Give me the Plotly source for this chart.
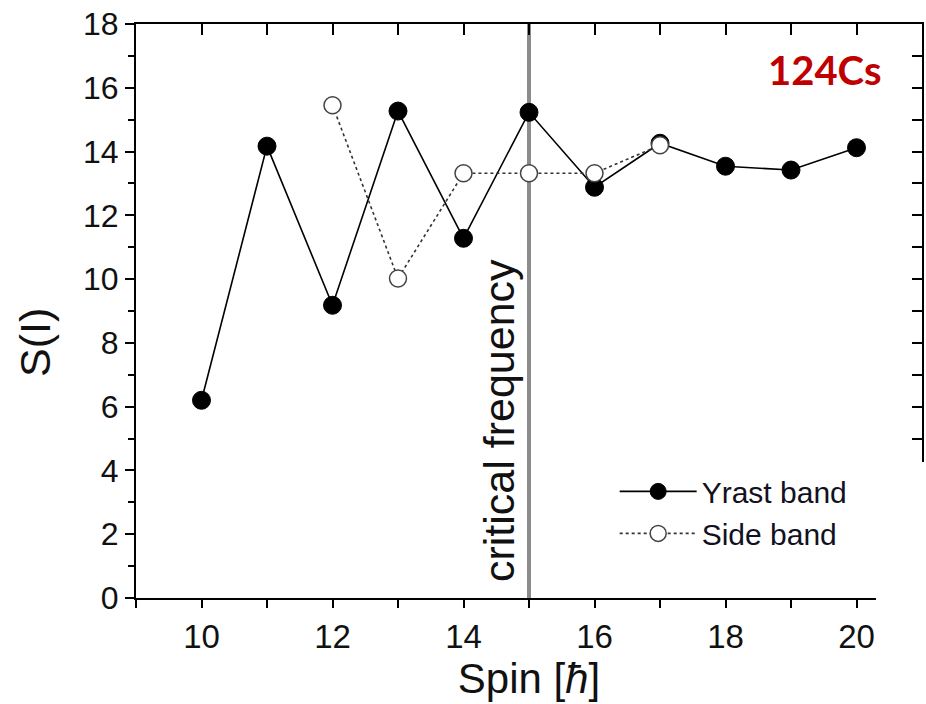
import plotly.graph_objects as go

# ---- data ----
yrast_spin = [10, 11, 12, 13, 14, 15, 16, 17, 18, 19, 20]
yrast_S = [6.2, 14.17, 9.18, 15.27, 11.28, 15.23, 12.88, 14.26, 13.54, 13.42, 14.12]
side_spin = [12, 13, 14, 15, 16, 17]
side_S = [15.45, 10.02, 13.32, 13.32, 13.32, 14.2]
critical_spin = 15
y_range = [0, 18]
x_range = [9, 21]

FONT = "Liberation Sans, Arial, sans-serif"

fig = go.Figure()

# critical frequency line
fig.add_trace(go.Scatter(
    x=[critical_spin, critical_spin], y=y_range, mode="lines",
    line=dict(color="#8c8c8c", width=4), showlegend=False, hoverinfo="skip"))

fig.add_trace(go.Scatter(
    x=yrast_spin, y=yrast_S, mode="lines+markers", name="Yrast band",
    line=dict(color="black", width=1.6),
    marker=dict(symbol="circle", size=18, color="black",
                line=dict(color="black", width=1))))

fig.add_trace(go.Scatter(
    x=side_spin, y=side_S, mode="lines+markers", name="Side band",
    line=dict(color="#333333", width=1.6, dash="dot"),
    marker=dict(symbol="circle", size=17, color="white",
                line=dict(color="#444444", width=1.5))))

# invisible trace for mirrored (inside-tick) axes
fig.add_trace(go.Scatter(x=[], y=[], xaxis="x2", yaxis="y2",
                         showlegend=False, hoverinfo="skip"))

fig.update_layout(
    width=926, height=704,
    margin=dict(l=136, r=4, t=24, b=106),
    paper_bgcolor="white", plot_bgcolor="white",
    font=dict(family=FONT, color="#111111"),
    showlegend=True,
    legend=dict(x=0.609, y=0.231, xanchor="left", yanchor="top",
                bgcolor="rgba(0,0,0,0)", borderwidth=0,
                font=dict(family=FONT, size=30, color="#111122"),
                itemwidth=77, tracegroupgap=0),
    xaxis=dict(range=x_range, showline=True, linecolor="black", linewidth=2,
               ticks="outside", ticklen=8, tickwidth=2, tickcolor="black",
               tickvals=[10, 12, 14, 16, 18, 20],
               minor=dict(tickvals=[9, 11, 13, 15, 17, 19, 21], ticks="outside",
                          ticklen=8, tickwidth=2, tickcolor="black"),
               showgrid=False, zeroline=False,
               tickfont=dict(family=FONT, size=33, color="#111111"),
               title=dict(text="Spin [<i>ħ</i>]", font=dict(family=FONT, size=42),
                          standoff=6)),
    yaxis=dict(range=y_range, showline=True, linecolor="black", linewidth=2,
               ticks="outside", ticklen=9, tickwidth=2, tickcolor="black",
               dtick=2, tick0=0,
               minor=dict(dtick=1, ticks="outside", ticklen=6, tickwidth=2,
                          tickcolor="black"),
               showgrid=False, zeroline=False,
               tickfont=dict(family=FONT, size=32, color="#111111")),
    xaxis2=dict(range=x_range, overlaying="x", side="top", anchor="y2",
                showline=True, linecolor="black", linewidth=2,
                ticks="inside", ticklen=11, tickwidth=2, tickcolor="black",
                dtick=1, tick0=0, showticklabels=False, showgrid=False,
                zeroline=False),
    yaxis2=dict(range=y_range, overlaying="y", side="right", anchor="x2",
                showline=True, linecolor="black", linewidth=2,
                ticks="inside", ticklen=10, tickwidth=2, tickcolor="black",
                dtick=1, tick0=0, showticklabels=False, showgrid=False,
                zeroline=False),
    annotations=[
        dict(text="S(I)", x=-0.1285, y=0.446, xref="paper", yref="paper",
             xanchor="center", yanchor="middle", textangle=-90, showarrow=False,
             font=dict(family=FONT, size=43, color="#111111")),
        dict(text="critical frequency", x=14.54, y=0.45, xref="x", yref="y",
             xanchor="center", yanchor="bottom", textangle=-90, showarrow=False,
             font=dict(family=FONT, size=43, color="#111111")),
        dict(text="<b>124Cs</b>", x=0.952, y=0.92, xref="paper", yref="paper",
             xanchor="right", yanchor="middle", showarrow=False,
             font=dict(family="Lato, Open Sans, sans-serif", size=40,
                       color="#C00000")),
    ],
    shapes=[
        dict(type="rect", xref="paper", yref="paper", layer="above",
             x0=0.9415, x1=1.2, y0=-0.5, y1=0.237,
             fillcolor="white", line=dict(width=0)),
    ],
)

fig.write_html("out.html")
